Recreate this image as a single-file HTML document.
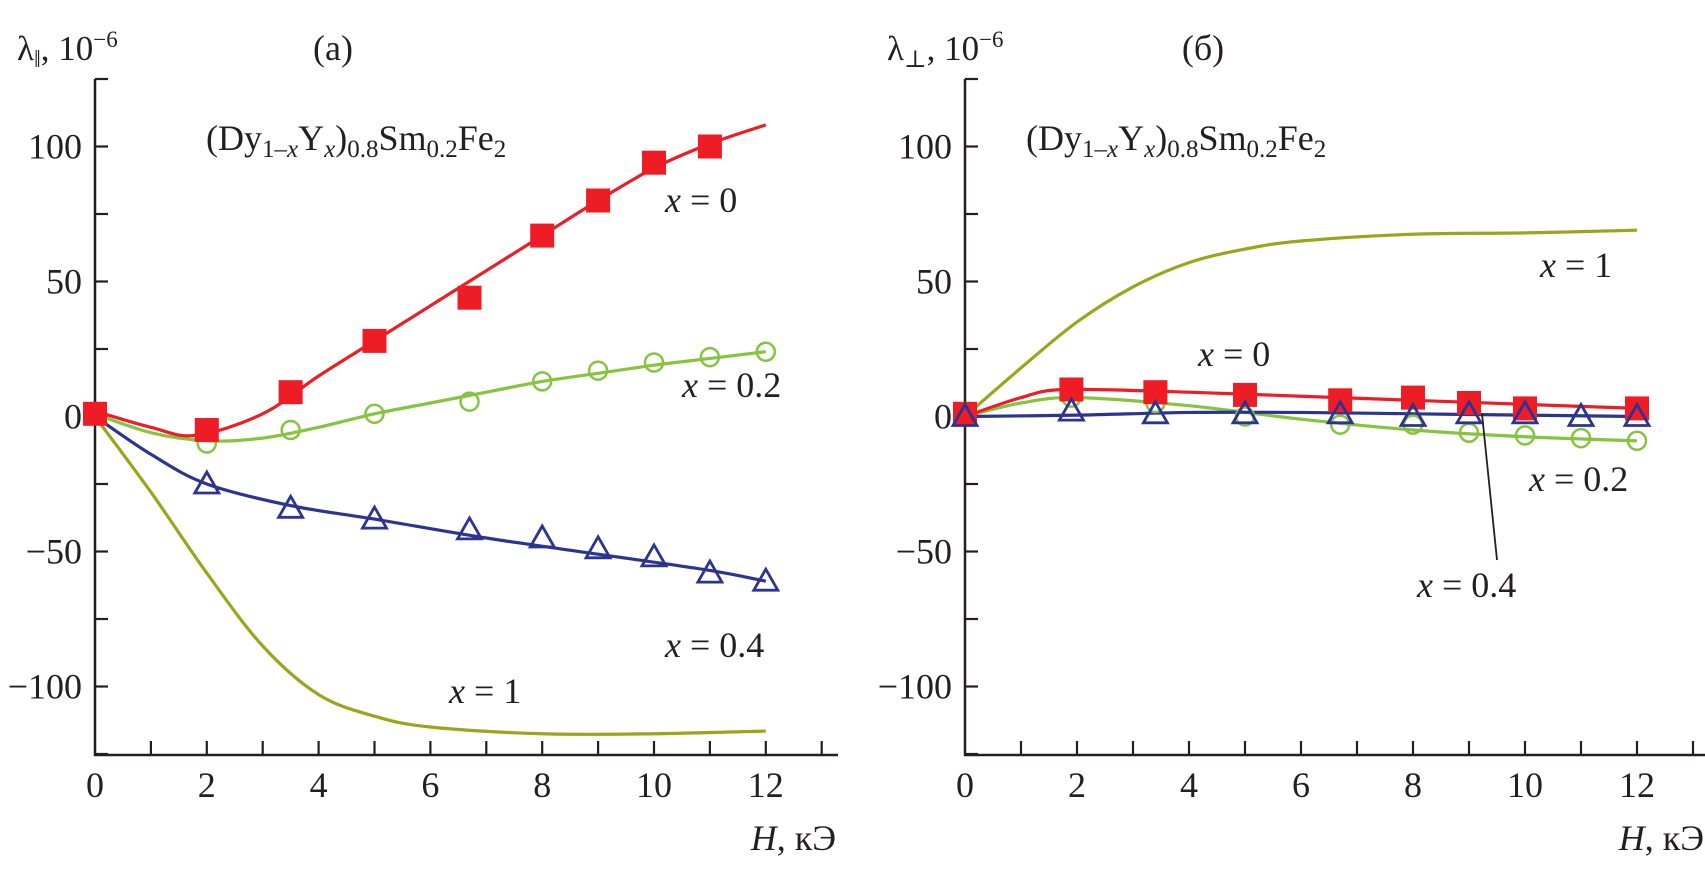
<!DOCTYPE html>
<html><head><meta charset="utf-8"><style>
html,body{margin:0;padding:0;background:#fff;}
svg, svg text{font-family:"Liberation Serif","DejaVu Serif",serif;}
</style></head><body>
<svg id="chart" width="1705" height="865" viewBox="0 0 1705 865" xmlns="http://www.w3.org/2000/svg" font-family="Liberation Serif, DejaVu Serif, serif">
<g id="pa"></g>
<g id="pb"></g>
</svg>
<script>
// ---------- data ----------
const hTicks = [0,2,4,6,8,10,12];
const yTicks = [-100,-50,0,50,100];
// panel (a)
const aRedMarkH = [0,2,3.5,5,6.7,8,9,10,11];
const aRedMarkV = [1,-5,9,28,44,67,80,94,100];
const aRedLineH = [0,1,1.8,3,4,5,6,7,8,9,10,11,12];
const aRedLineV = [2,-4,-7,1,15,28,41,54,67,80,92,101,108];
const aGrnMarkH = [0,2,3.5,5,6.7,8,9,10,11,12];
const aGrnMarkV = [1,-10,-5,1,5.5,13,17,20,22,24];
const aGrnLineH = [0,1,2,3,4,5,6,7,8,9,10,11,12];
const aGrnLineV = [1,-6,-9,-8,-4,1,5,9,13,16,19,21.5,24];
const aBluMarkH = [2,3.5,5,6.7,8,9,10,11,12];
const aBluMarkV = [-25,-34,-38,-42,-45,-49,-52,-58,-61];
const aBluLineH = [0,1,2,3.5,5,7,9,11,12];
const aBluLineV = [0,-14,-25,-33,-38,-45,-51,-57,-61];
const aOlvLineH = [0,1,2,3,4,5,6,8,10,12];
const aOlvLineV = [0,-28,-58,-85,-103,-111,-115,-117.5,-117.5,-116.5];
// panel (b)
const bOlvLineH = [0,1,2,3,4,5,6,8,10,12];
const bOlvLineV = [0,18,35,48,57,62,65,67.5,68,69];
const bRedMarkH = [0,1.9,3.4,5,6.7,8,9,10,12];
const bRedMarkV = [1,10,9,8,6,7,5,3,3];
const bRedLineH = [0,1,1.8,4,6,8,10,12];
const bRedLineV = [0,7,10,9,7.5,6,4.5,3];
const bGrnMarkH = [0,1.9,3.4,5,6.7,8,9,10,11,12];
const bGrnMarkV = [0,7,5,0,-3,-3,-6,-7,-8,-9];
const bGrnLineH = [0,1,2,4,6,8,10,12];
const bGrnLineV = [0,5,7,4,-1,-5,-7.5,-9];
const bBluMarkH = [0,1.9,3.4,5,6.7,8,9,10,11,12];
const bBluMarkV = [0,2,1,1,1,0,1,1,0,0];
const bBluLineH = [0,2,4,6,8,10,12];
const bBluLineV = [0,0.5,1.5,1.5,1,0.5,0];

const NS="http://www.w3.org/2000/svg";
const FF="'Liberation Serif','DejaVu Serif',serif";
const Y = v => 416.5 - v*2.7;
function mk(p,tag,at){const e=document.createElementNS(NS,tag);for(const k in at)e.setAttribute(k,at[k]);if(tag==='text')e.style.fontFamily=FF;p.appendChild(e);return e;}
function smooth(pts){let d=`M${pts[0][0]},${pts[0][1]}`;for(let i=0;i<pts.length-1;i++){const p0=pts[i-1]||pts[i],p1=pts[i],p2=pts[i+1],p3=pts[i+2]||p2;
d+=` C${p1[0]+(p2[0]-p0[0])/6},${p1[1]+(p2[1]-p0[1])/6} ${p2[0]-(p3[0]-p1[0])/6},${p2[1]-(p3[1]-p1[1])/6} ${p2[0]},${p2[1]}`;}return d;}
const RED="#ee1c25",GRN="#86c440",BLU="#2b3490",OLV="#9aa51a";

function axes(g,x0,ux,xEnd,name){
  const ax=mk(g,'path',{d:`M${x0},79 V755 H${xEnd}`,stroke:'#231f20','stroke-width':2.5,fill:'none'});
  
  
  for(let v=-125;v<=125;v+=25){const t=mk(g,'line',{x1:x0,x2:x0+13,y1:Y(v),y2:Y(v),stroke:'#231f20','stroke-width':2.2});
    
    }
  for(let h=1;h<=13;h++){const t=mk(g,'line',{x1:x0+h*ux,x2:x0+h*ux,y1:755,y2:741,stroke:'#231f20','stroke-width':2.2});
    
    }
  yTicks.forEach(v=>{const t=mk(g,'text',{x:x0-13,y:Y(v)+12,'text-anchor':'end','font-size':36,fill:'#231f20'});t.textContent=v<0?'\u2212'+(-v):v;
    
    });
  hTicks.forEach(h=>{const t=mk(g,'text',{x:x0+h*ux,y:797,'text-anchor':'middle','font-size':36,fill:'#231f20'});t.textContent=h;
    
    });
}
function line(g,X,H,V,c,name){const e=mk(g,'path',{d:smooth(H.map((h,i)=>[X(h),Y(V[i])])),stroke:c,'stroke-width':3.2,fill:'none'});
  
  }
function marks(g,X,H,V,c,shape,name){H.forEach((h,i)=>{const x=X(h),y=Y(V[i]);let e;
  if(shape==='sq')e=mk(g,'rect',{x:x-12,y:y-12,width:24,height:24,fill:c});
  else if(shape==='ci')e=mk(g,'circle',{cx:x,cy:y,r:9,fill:'none',stroke:c,'stroke-width':2.5});
  else e=mk(g,'path',{d:`M${x},${y-12} L${x+12},${y+9} L${x-12},${y+9} Z`,fill:'none',stroke:c,'stroke-width':2.8});
  
  });}
function label(g,x,y,txt,name){const t=mk(g,'text',{x:x,y:y,'font-size':36,fill:'#231f20'});
  t.innerHTML='<tspan font-style="italic">x</tspan> = '+txt;
  
  }
function header(g,x0,sym,tag,tagX,fx){
  const t=mk(g,'text',{x:x0-78,y:60,'font-size':35,fill:'#231f20'});
  t.innerHTML='λ<tspan font-size="24" dy="7">'+sym+'</tspan><tspan dy="-7">, 10</tspan><tspan font-size="23" dy="-13">−6</tspan>';
  
  
  const p=mk(g,'text',{x:tagX,y:60,'text-anchor':'middle','font-size':36,fill:'#231f20'});p.textContent=tag;
  
  
  const f=mk(g,'text',{x:fx,y:150,'font-size':36,fill:'#231f20'});
  f.innerHTML='(Dy<tspan font-size="25" dy="7">1–<tspan font-style="italic">x</tspan></tspan><tspan dy="-7">Y</tspan><tspan font-size="25" dy="7" font-style="italic">x</tspan><tspan dy="-7">)</tspan><tspan font-size="25" dy="7">0.8</tspan><tspan dy="-7">Sm</tspan><tspan font-size="25" dy="7">0.2</tspan><tspan dy="-7">Fe</tspan><tspan font-size="25" dy="7">2</tspan>';
  
  
  const xl=mk(g,'text',{x:0,y:850,'text-anchor':'end','font-size':36,fill:'#231f20'});
  xl.innerHTML='<tspan font-style="italic">H</tspan>, кЭ';
  
  
  return xl;
}
// panel a
const ga=document.getElementById('pa');
const Xa=h=>95+h*55.9;
axes(ga,95,55.9,838,'panel-a');
header(ga,95,'‖','(a)',333,206).setAttribute('x',836);
line(ga,Xa,aOlvLineH,aOlvLineV,OLV,'curve-x1');
line(ga,Xa,aBluLineH,aBluLineV,BLU,'curve-x04');
line(ga,Xa,aGrnLineH,aGrnLineV,GRN,'curve-x02');
line(ga,Xa,aRedLineH,aRedLineV,RED,'curve-x0');
marks(ga,Xa,aBluMarkH,aBluMarkV,BLU,'tr','marker-x04');
marks(ga,Xa,aGrnMarkH,aGrnMarkV,GRN,'ci','marker-x02');
marks(ga,Xa,aRedMarkH,aRedMarkV,RED,'sq','marker-x0');
label(ga,665,212,'0','label-x0');
label(ga,682,397,'0.2','label-x02');
label(ga,665,657,'0.4','label-x04');
label(ga,449,703,'1','label-x1');
// panel b
const gb=document.getElementById('pb');
const Xb=h=>965+h*56;
axes(gb,965,56,1705,'panel-b');
header(gb,965,'⊥','(б)',1203,1026).setAttribute('x',1704);
line(gb,Xb,bOlvLineH,bOlvLineV,OLV,'curve-x1');
line(gb,Xb,bGrnLineH,bGrnLineV,GRN,'curve-x02');
line(gb,Xb,bRedLineH,bRedLineV,RED,'curve-x0');
line(gb,Xb,bBluLineH,bBluLineV,BLU,'curve-x04');
marks(gb,Xb,bGrnMarkH,bGrnMarkV,GRN,'ci','marker-x02');
marks(gb,Xb,bRedMarkH,bRedMarkV,RED,'sq','marker-x0');
marks(gb,Xb,bBluMarkH,bBluMarkV,BLU,'tr','marker-x04');
const ld=mk(gb,'line',{x1:1497,y1:560,x2:1482,y2:Y(1),stroke:'#231f20','stroke-width':1.8});


label(gb,1540,277,'1','label-x1');
label(gb,1198,366,'0','label-x0');
label(gb,1529,491,'0.2','label-x02');
label(gb,1417,597,'0.4','label-x04');
</script>
</body></html>
